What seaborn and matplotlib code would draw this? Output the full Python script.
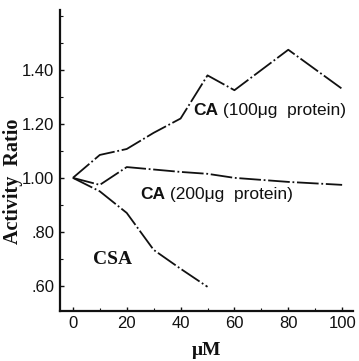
import numpy as np
import pandas as pd
import matplotlib
matplotlib.use('Agg')
import matplotlib.pyplot as plt
import seaborn as sns

# values
conc_ca100 = [0, 10, 20, 30, 40, 50, 60, 80, 100]
ratio_ca100 = [1.00, 1.085, 1.107, 1.167, 1.22, 1.38, 1.325, 1.475, 1.33]

conc_ca200 = [0, 10, 20, 40, 50, 60, 80, 100]
ratio_ca200 = [1.00, 0.974, 1.04, 1.022, 1.015, 1.00, 0.985, 0.974]

conc_csa = [0, 10, 20, 30, 40, 50]
ratio_csa = [1.00, 0.95, 0.87, 0.733, 0.663, 0.596]

x_ticks = [0, 20, 40, 60, 80, 100]
y_ticks = [0.60, 0.80, 1.00, 1.20, 1.40]
y_tick_labels = ['.60', '.80', '1.00', '1.20', '1.40']

sns.set_style('ticks')
plt.rcParams['font.family'] = ['Liberation Sans', 'DejaVu Sans']
serif = ['Liberation Serif', 'DejaVu Serif']

fig = plt.figure(figsize=(3.59, 3.61), dpi=100)
ax = fig.add_axes([0.167, 0.139, 0.816, 0.833])

ink = '#111111'
dash = (0, (12, 1.5, 1, 1.5))
for xs, ys in [(conc_ca100, ratio_ca100), (conc_ca200, ratio_ca200), (conc_csa, ratio_csa)]:
    df = pd.DataFrame({'conc': xs, 'ratio': ys})
    sns.lineplot(data=df, x='conc', y='ratio', ax=ax, color=ink, lw=1.3,
                 linestyle=dash, estimator=None, sort=False)

ax.set_xlim(-4.8, 104)
ax.set_ylim(0.507, 1.622)
ax.set_xticks(x_ticks)
ax.set_yticks(y_ticks)
ax.set_yticklabels(y_tick_labels)
ax.set_xticks(np.arange(0, 101, 10), minor=True)
ax.set_yticks(np.arange(0.6, 1.61, 0.1), minor=True)
ax.tick_params(axis='both', which='major', direction='in', length=3, width=1,
               labelsize=12, colors=ink, pad=4)
ax.tick_params(axis='both', which='minor', direction='in', length=2, width=0.8, colors=ink)

for side in ['top', 'right']:
    ax.spines[side].set_visible(False)
for side in ['left', 'bottom']:
    ax.spines[side].set_linewidth(1.6)
    ax.spines[side].set_color(ink)

ax.set_xlabel('μM', family=serif, weight='bold', fontsize=14, color=ink, labelpad=8)
ax.set_ylabel('Activity  Ratio', family=serif, weight='bold',
              fontsize=14.5, color=ink, labelpad=4)
ax.yaxis.set_label_coords(-0.125, 0.43)

# curve labels: bold "CA" followed by plain text
t1 = ax.text(44.6, 1.25, 'CA', weight='bold', fontsize=12.5, color=ink, va='center')
ax.annotate(' (100μg  protein)', xy=(1, 0), xycoords=t1, va='bottom',
            fontsize=12.5, color=ink)
t2 = ax.text(24.9, 0.937, 'CA', weight='bold', fontsize=12.5, color=ink, va='center')
ax.annotate(' (200μg  protein)', xy=(1, 0), xycoords=t2, va='bottom',
            fontsize=12.5, color=ink)
ax.text(7.5, 0.696, 'CSA', family=serif, weight='bold',
        fontsize=14, color=ink, va='center')

fig.savefig('out.png', dpi=100)
